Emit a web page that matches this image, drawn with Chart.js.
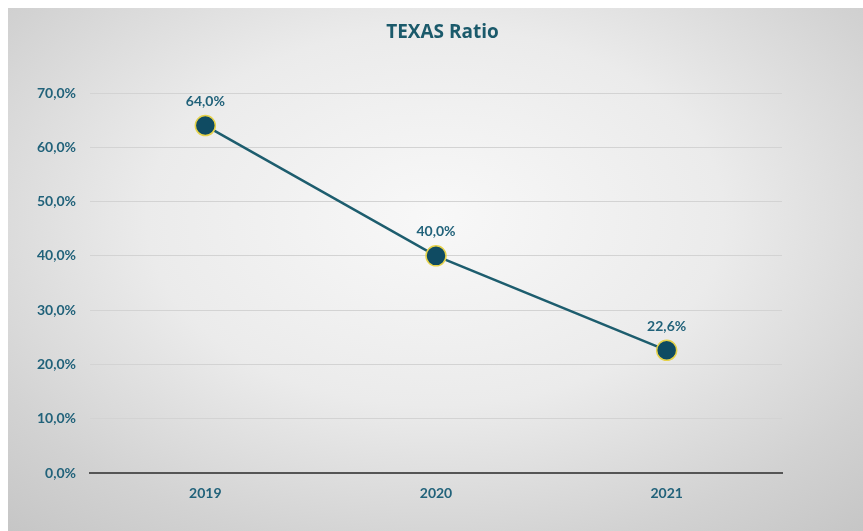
<!DOCTYPE html>
<html>
<head>
<meta charset="utf-8">
<script src="https://cdn.jsdelivr.net/npm/chart.js@4.4.0/dist/chart.umd.min.js"></script>
<style>
  html, body { margin: 0; padding: 0; background: #fff; }
  #wrap {
    position: absolute; left: 8px; top: 8px; width: 855px; height: 523px;
    background: radial-gradient(ellipse 75% 80% at 50% 40%, #f8f8f8 0%, #ebebeb 45%, #d2d2d2 80%, #c6c6c6 100%);
  }
  canvas { display: block; }
</style>
</head>
<body>
<div id="wrap"><canvas id="chart" width="855" height="523"></canvas></div>
<script>
// values
var years = ["2019", "2020", "2021"];
var texasRatio = [64.0, 40.0, 22.6];
var yTicks = [0, 10, 20, 30, 40, 50, 60, 70];
var chartTitle = "TEXAS Ratio";

var teal = "#21627a";

function pct(v) {
    return v.toFixed(1).replace(".", ",") + "%";
}

// value above each point + title centred on the whole canvas
var extras = {
    id: "extras",
    afterDatasetsDraw: function(chart) {
        var ctx = chart.ctx;
        var meta = chart.getDatasetMeta(0);
        ctx.save();
        ctx.font = "bold 14px Lato";
        ctx.fillStyle = teal;
        ctx.textAlign = "center";
        ctx.textBaseline = "middle";
        meta.data.forEach(function(pt, i) {
            ctx.fillText(pct(texasRatio[i]), pt.x, pt.y - 24);
        });
        ctx.font = "bold 19px 'Open Sans'";
        ctx.fillStyle = "#1b5a6b";
        ctx.fillText(chartTitle, chart.width / 2 + 7, 25);
        ctx.restore();
    }
};

new Chart(document.getElementById("chart").getContext("2d"), {
    type: "line",
    data: {
        labels: years,
        datasets: [{
            data: texasRatio,
            borderColor: "#1d5d6e",
            borderWidth: 2.5,
            pointRadius: 10,
            pointBackgroundColor: "#0f4b62",
            pointBorderColor: "#e6d24a",
            pointBorderWidth: 1.5,
            tension: 0
        }]
    },
    options: {
        responsive: false,
        animation: false,
        layout: { padding: { left: 0, right: 81, top: 85, bottom: 0 } },
        plugins: {
            legend: { display: false },
            tooltip: { enabled: false },
            title: { display: false }
        },
        scales: {
            x: {
                offset: true,
                grid: { display: false, drawTicks: false },
                border: { color: "#555", width: 2 },
                ticks: {
                    color: teal,
                    font: { family: "Lato", size: 14, weight: "bold" },
                    padding: 12
                },
                afterFit: function(s) { s.height = 58; }
            },
            y: {
                min: 0,
                max: 70,
                afterBuildTicks: function(s) {
                    s.ticks = yTicks.map(function(v) { return { value: v }; });
                },
                grid: { color: "#d3d3d3", lineWidth: 1, drawTicks: false },
                border: { display: false },
                ticks: {
                    color: teal,
                    font: { family: "Lato", size: 14, weight: "bold" },
                    padding: 14,
                    callback: function(v) { return pct(v); }
                },
                afterFit: function(s) { s.width = 82; }
            }
        }
    },
    plugins: [extras]
});
</script>
</body>
</html>
